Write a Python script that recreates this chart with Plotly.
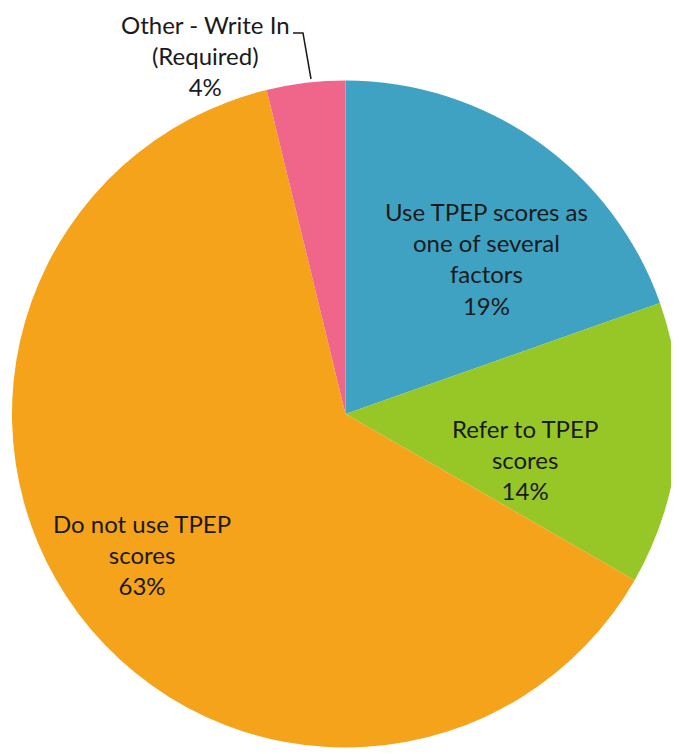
import plotly.graph_objects as go

# data
labels = ["Use TPEP scores as<br>one of several<br>factors",
          "Refer to TPEP<br>scores",
          "Do not use TPEP<br>scores",
          "Other - Write In<br>(Required)"]
values = [19.6, 13.7, 62.9, 3.8]
pct_text = ["19%", "14%", "63%", "4%"]
colors = ["#40A2C3", "#96C727", "#F5A31B", "#F0668A"]

# the page body adds an 8px offset, so the figure is drawn slightly smaller
OFF = 8
W, H = 679 - OFF, 754 - OFF
# label centres in window pixels (x, y from top)
label_pos = [(487, 258), (525, 460), (142, 554), (205, 55)]


def px(x):
    return (x - OFF) / W


def py(y):
    return 1 - (y - OFF) / H


fig = go.Figure(go.Pie(
    labels=[l.replace("<br>", " ") for l in labels],
    values=values,
    sort=False,
    direction="clockwise",
    rotation=0,
    marker=dict(colors=colors, line=dict(width=0)),
    textinfo="none",
    hoverinfo="label+percent",
    showlegend=False,
    domain=dict(x=[4 / W, 1], y=[6.5 / H, 673.5 / H]),
))

for lab, pct, (lx, ly) in zip(labels, pct_text, label_pos):
    fig.add_annotation(
        x=px(lx), y=py(ly), xref="paper", yref="paper",
        xanchor="center", yanchor="middle",
        text=f"{lab}<br>{pct}", showarrow=False,
        font=dict(family="Lato", size=24, color="#1a1a1a"),
        align="center",
    )

# leader line for the small slice
pts = [(293, 33), (303, 33), (311, 79)]
path = "M " + " L ".join(f"{px(x)},{py(y)}" for x, y in pts)
fig.add_shape(type="path", path=path, xref="paper", yref="paper",
              line=dict(color="#1a1a1a", width=1.5))

fig.update_layout(
    width=W, height=H,
    margin=dict(l=0, r=0, t=0, b=0),
    paper_bgcolor="white",
    plot_bgcolor="white",
)

fig.write_html("out.html")
